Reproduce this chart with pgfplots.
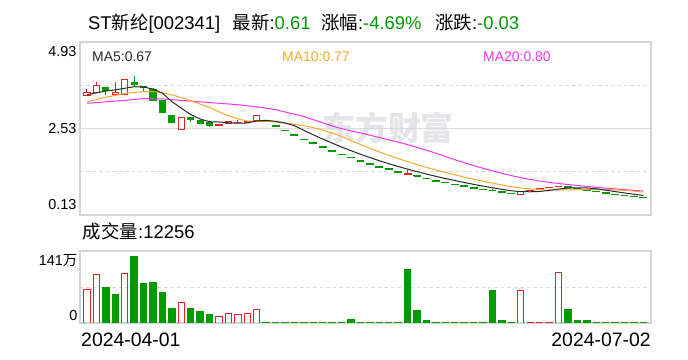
\documentclass[border=0pt]{standalone}
\usepackage{pgfplots}
\pgfplotsset{compat=1.18}
\usepackage{fontspec}
\setmainfont{Liberation Sans}
\newfontfamily\cjk{Noto Sans CJK SC}
\definecolor{upred}{RGB}{232,32,36}
\definecolor{dngreen}{RGB}{0,155,0}
\definecolor{tgreen}{RGB}{0,153,0}
\definecolor{ma5c}{RGB}{40,40,40}
\definecolor{ma10c}{RGB}{246,168,44}
\definecolor{ma20c}{RGB}{238,52,238}
\definecolor{framec}{RGB}{212,212,212}
\definecolor{gridc}{RGB}{218,218,218}
\definecolor{wm}{RGB}{228,228,233}
\pgfplotsset{kchart/.style={scale only axis, width=571bp, xmin=-0.742, xmax=59.81,
  xtick=\empty, axis line style={draw=framec, line width=1.2pt}, major tick length=0pt,
  unbounded coords=jump, anchor=south west}}
\begin{document}
\begin{tikzpicture}
\useasboundingbox (0,0) rectangle (688bp,360bp);
% watermark
\node[text=wm, font=\fontsize{33}{35}\selectfont\cjk\bfseries] at (388bp,232bp) {东方财富};
% price panel
\begin{axis}[kchart, at={(80bp,145bp)}, height=173bp, ymin=0.13, ymax=4.93,
  ytick={1.33,3.73}, yticklabels={}, ymajorgrids,
  grid style={draw=gridc, dash pattern=on 3.5pt off 3pt, line width=0.8pt},
  extra y ticks={2.53}, extra y tick labels={},
  extra y tick style={grid style={draw=gridc, solid, line width=0.8pt}}]
% red wicks
\addplot[draw=upred, line width=1pt, mark=none] table[x=x,y=y] {
x y
0 3.52
0 3.62
nan nan
1 3.71
1 3.81
nan nan
3 3.54
3 3.81
nan nan
15 2.73
15 2.75
nan nan
16 2.71
16 2.76
nan nan
16 2.66
16 2.70
nan nan
17 2.72
17 2.75
nan nan
17 2.68
17 2.70
nan nan
34 1.26
34 1.37
nan nan
50 0.93
50 0.94
};
% green wicks
\addplot[draw=dngreen, line width=1pt, mark=none] table[x=x,y=y] {
x y
2 3.47
2 3.69
nan nan
5 3.67
5 4.00
nan nan
6 3.58
6 3.71
nan nan
7 3.29
7 3.64
nan nan
8 2.96
8 3.31
nan nan
9 2.69
9 2.91
nan nan
11 2.71
11 2.85
nan nan
12 2.65
12 2.77
nan nan
13 2.58
13 2.71
nan nan
35 1.20
35 1.24
nan nan
43 0.79
43 0.85
nan nan
51 0.89
51 0.94
};
% red hollow bodies
\addplot[draw=upred, line width=1pt, line cap=rect, mark=none] table[x=x,y=y] {
x y
-0.33 3.45
0.33 3.45
0.33 3.52
-0.33 3.52
-0.33 3.45
nan nan
0.67 3.53
1.33 3.53
1.33 3.71
0.67 3.71
0.67 3.53
nan nan
2.67 3.48
3.33 3.48
3.33 3.54
2.67 3.54
2.67 3.48
nan nan
3.67 3.48
4.33 3.48
4.33 3.88
3.67 3.88
3.67 3.48
nan nan
9.67 2.51
10.33 2.51
10.33 2.84
9.67 2.84
9.67 2.51
nan nan
13.67 2.61
14.33 2.61
14.33 2.65
13.67 2.65
13.67 2.61
nan nan
14.67 2.67
15.33 2.67
15.33 2.73
14.67 2.73
14.67 2.67
nan nan
15.67 2.70
16.33 2.70
16.33 2.71
15.67 2.71
15.67 2.70
nan nan
16.67 2.70
17.33 2.70
17.33 2.72
16.67 2.72
16.67 2.70
nan nan
17.67 2.75
18.33 2.75
18.33 2.88
17.67 2.88
17.67 2.75
nan nan
45.67 0.70
46.33 0.70
46.33 0.77
45.67 0.77
45.67 0.70
nan nan
49.67 0.92
50.33 0.92
50.33 0.93
49.67 0.93
49.67 0.92
};
% green filled bodies
\addplot[draw=dngreen, fill=dngreen, line width=1pt, mark=none] table[x=x,y=y] {
x y
1.67 3.58
2.33 3.58
2.33 3.67
1.67 3.67
1.67 3.58
nan nan
4.67 3.74
5.33 3.74
5.33 3.82
4.67 3.82
4.67 3.74
nan nan
5.67 3.66
6.33 3.66
6.33 3.69
5.67 3.69
5.67 3.66
nan nan
6.67 3.30
7.33 3.30
7.33 3.62
6.67 3.62
6.67 3.30
nan nan
7.67 2.98
8.33 2.98
8.33 3.30
7.67 3.30
7.67 2.98
nan nan
8.67 2.69
9.33 2.69
9.33 2.90
8.67 2.90
8.67 2.69
nan nan
10.67 2.77
11.33 2.77
11.33 2.84
10.67 2.84
10.67 2.77
nan nan
11.67 2.68
12.33 2.68
12.33 2.75
11.67 2.75
11.67 2.68
nan nan
12.67 2.61
13.33 2.61
13.33 2.71
12.67 2.71
12.67 2.61
nan nan
34.67 1.20
35.33 1.20
35.33 1.23
34.67 1.23
34.67 1.20
nan nan
42.67 0.80
43.33 0.80
43.33 0.82
42.67 0.82
42.67 0.80
nan nan
50.67 0.90
51.33 0.90
51.33 0.92
50.67 0.92
50.67 0.90
};
% red one-price dashes
\addplot[draw=upred, line width=1.6pt, mark=none] table[x=x,y=y] {
x y
33.58 1.26
34.42 1.26
nan nan
46.58 0.81
47.42 0.81
nan nan
47.58 0.85
48.42 0.85
nan nan
48.58 0.89
49.42 0.89
};
% green one-price dashes
\addplot[draw=dngreen, line width=1.6pt, mark=none] table[x=x,y=y] {
x y
18.58 2.74
19.42 2.74
nan nan
19.58 2.60
20.42 2.60
nan nan
20.58 2.47
21.42 2.47
nan nan
21.58 2.35
22.42 2.35
nan nan
22.58 2.23
23.42 2.23
nan nan
23.58 2.12
24.42 2.12
nan nan
24.58 2.01
25.42 2.01
nan nan
25.58 1.91
26.42 1.91
nan nan
26.58 1.81
27.42 1.81
nan nan
27.58 1.72
28.42 1.72
nan nan
28.58 1.63
29.42 1.63
nan nan
29.58 1.55
30.42 1.55
nan nan
30.58 1.47
31.42 1.47
nan nan
31.58 1.40
32.42 1.40
nan nan
32.58 1.33
33.42 1.33
nan nan
35.58 1.14
36.42 1.14
nan nan
36.58 1.08
37.42 1.08
nan nan
37.58 1.03
38.42 1.03
nan nan
38.58 0.98
39.42 0.98
nan nan
39.58 0.93
40.42 0.93
nan nan
40.58 0.88
41.42 0.88
nan nan
41.58 0.84
42.42 0.84
nan nan
43.58 0.76
44.42 0.76
nan nan
44.58 0.73
45.42 0.73
nan nan
51.58 0.86
52.42 0.86
nan nan
52.58 0.82
53.42 0.82
nan nan
53.58 0.78
54.42 0.78
nan nan
54.58 0.74
55.42 0.74
nan nan
55.58 0.70
56.42 0.70
nan nan
56.58 0.67
57.42 0.67
nan nan
57.58 0.64
58.42 0.64
nan nan
58.58 0.61
59.42 0.61
};
% MA20
\addplot[draw=ma20c, line width=1pt, mark=none] coordinates {
(0,3.23) (2,3.27) (4,3.31) (6,3.36) (8,3.35) (10,3.31) (12,3.27) (14,3.23) (16,3.19) (18,3.13)
(19,3.097) (20,3.051) (21,2.989) (22,2.927) (23,2.862) (24,2.774) (25,2.687) (26,2.600) (27,2.525)
(28,2.462) (29,2.409) (30,2.345) (31,2.280) (32,2.216) (33,2.152) (34,2.082) (35,2.006) (36,1.927)
(37,1.845) (38,1.753) (39,1.665) (40,1.581) (41,1.502) (42,1.426) (43,1.355) (44,1.287) (45,1.223)
(46,1.166) (47,1.116) (48,1.072) (49,1.035) (50,1.004) (51,0.976) (52,0.949) (53,0.923) (54,0.899)
(55,0.876) (56,0.854) (57,0.834) (58,0.814) (59,0.796)};
% MA10
\addplot[draw=ma10c, line width=1pt, mark=none] coordinates {
(0,3.27) (1,3.33) (2,3.40) (3,3.45) (4,3.50) (5,3.53) (6,3.55) (7,3.55) (8,3.52) (9,3.46)
(10,3.392) (11,3.298) (12,3.208) (13,3.115) (14,2.992) (15,2.891) (16,2.796) (17,2.738) (18,2.728)
(19,2.733) (20,2.709) (21,2.679) (22,2.646) (23,2.608) (24,2.555) (25,2.483) (26,2.403) (27,2.312)
(28,2.196) (29,2.085) (30,1.980) (31,1.880) (32,1.785) (33,1.695) (34,1.609) (35,1.528) (36,1.451)
(37,1.378) (38,1.309) (39,1.244) (40,1.182) (41,1.123) (42,1.067) (43,1.014) (44,0.964) (45,0.917)
(46,0.880) (47,0.853) (48,0.835) (49,0.826) (50,0.826) (51,0.828) (52,0.830) (53,0.832) (54,0.834)
(55,0.835) (56,0.828) (57,0.814) (58,0.793) (59,0.765)};
% MA5
\addplot[draw=ma5c, line width=1pt, mark=none] coordinates {
(0,3.47) (1,3.52) (2,3.57) (3,3.60) (4,3.646) (5,3.69) (6,3.68) (7,3.624) (8,3.512) (9,3.274)
(10,3.094) (11,2.916) (12,2.792) (13,2.718) (14,2.710) (15,2.688) (16,2.676) (17,2.684) (18,2.738)
(19,2.756) (20,2.730) (21,2.682) (22,2.608) (23,2.478) (24,2.354) (25,2.236) (26,2.124) (27,2.016)
(28,1.914) (29,1.816) (30,1.724) (31,1.636) (32,1.554) (33,1.476) (34,1.402) (35,1.332) (36,1.266)
(37,1.202) (38,1.142) (39,1.086) (40,1.032) (41,0.980) (42,0.932) (43,0.886) (44,0.842) (45,0.802)
(46,0.780) (47,0.774) (48,0.784) (49,0.810) (50,0.850) (51,0.876) (52,0.886) (53,0.880) (54,0.858)
(55,0.820) (56,0.780) (57,0.742) (58,0.706) (59,0.672)};
\end{axis}
% volume panel
\begin{axis}[kchart, at={(80bp,37bp)}, height=72bp, ymin=0, ymax=141,
  ytick={70.5}, yticklabels={}, ymajorgrids,
  grid style={draw=gridc, dash pattern=on 3.5pt off 3pt, line width=0.8pt}]
\addplot[ybar, bar width=0.68, bar shift=0pt, fill=dngreen, draw=dngreen, line width=1pt, mark=none] coordinates {
(2,69) (3,55) (5,131) (6,78) (7,80) (8,59) (9,28) (11,28) (12,23) (13,17.6)
(19,1.2) (20,1.2) (21,1.2) (22,1.2) (23,1.2) (24,1.2) (25,1.2) (26,1.2) (27,1.2) (28,6)
(29,1.2) (30,1.2) (31,1.2) (32,1.2) (33,1.2) (34,104) (35,25) (36,4)
(37,1.2) (38,1.2) (39,1.2) (40,1.2) (41,1.2) (42,1.2) (43,63) (44,4) (45,1.2)
(51,27) (52,4) (53,5) (54,1.2) (55,1.2) (56,1.2) (57,1.2) (58,1.2) (59,1.2)};
\addplot[ybar, bar width=0.68, bar shift=0pt, fill=none, draw=upred, line width=1pt, mark=none] coordinates {
(0,65) (1,95) (4,97) (10,40) (14,12) (15,19) (16,17) (17,19) (18,27)
(46,64) (47,1.2) (48,1.2) (49,1.2) (50,99)};
\end{axis}
% texts
\begin{scope}[every node/.style={inner sep=0pt}]
\node[anchor=base west, font=\fontsize{18.5}{20}\selectfont] at (88bp,330.7bp) {ST{\cjk 新纶}[002341]};
\node[anchor=base west, font=\fontsize{18.5}{20}\selectfont] at (232.5bp,330.7bp) {{\cjk 最新}:\textcolor{tgreen}{0.61}};
\node[anchor=base west, font=\fontsize{18.5}{20}\selectfont] at (321bp,330.7bp) {{\cjk 涨幅}:\textcolor{tgreen}{-4.69\%}};
\node[anchor=base west, font=\fontsize{18.5}{20}\selectfont] at (435bp,330.7bp) {{\cjk 涨跌}:\textcolor{tgreen}{-0.03}};
\node[anchor=base west, font=\fontsize{14}{16}\selectfont, text=ma5c] at (92bp,298.3bp) {MA5:0.67};
\node[anchor=base west, font=\fontsize{14}{16}\selectfont, text=ma10c] at (282bp,298.3bp) {MA10:0.77};
\node[anchor=base west, font=\fontsize{14}{16}\selectfont, text=ma20c] at (483bp,298.3bp) {MA20:0.80};
\node[anchor=base east, font=\fontsize{14.5}{16}\selectfont] at (76.7bp,303.3bp) {4.93};
\node[anchor=base east, font=\fontsize{14.5}{16}\selectfont] at (76.7bp,226.6bp) {2.53};
\node[anchor=base east, font=\fontsize{14.5}{16}\selectfont] at (76.7bp,150bp) {0.13};
\node[anchor=base west, font=\fontsize{18.5}{20}\selectfont] at (82.7bp,121bp) {{\cjk 成交量}:12256};
\node[anchor=base east, font=\fontsize{14.5}{16}\selectfont] at (77.5bp,94bp) {141{\cjk 万}};
\node[anchor=base east, font=\fontsize{14.5}{16}\selectfont] at (77.5bp,39.3bp) {0};
\node[anchor=base west, font=\fontsize{19.5}{21}\selectfont] at (81bp,13.3bp) {2024-04-01};
\node[anchor=base east, font=\fontsize{19.5}{21}\selectfont] at (651bp,13.3bp) {2024-07-02};
\end{scope}
\end{tikzpicture}
\end{document}
